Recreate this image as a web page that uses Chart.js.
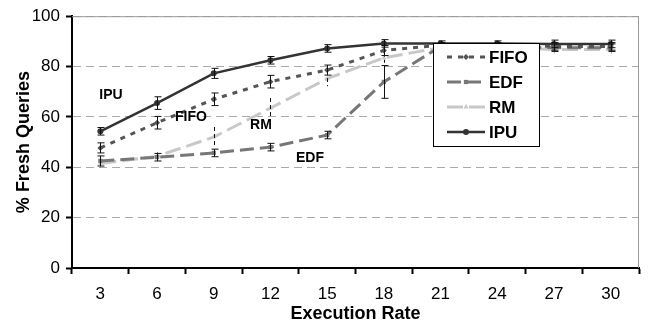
<!DOCTYPE html>
<html>
<head>
<meta charset="utf-8">
<script src="https://cdn.jsdelivr.net/npm/chart.js@4.4.1/dist/chart.umd.min.js"></script>
<style>
  html, body { margin: 0; padding: 0; background: #fff; }
  #wrap { width: 648px; height: 325px; }
</style>
</head>
<body>
<div id="wrap"><canvas id="fresh_queries" width="648" height="325"></canvas></div>
<script>
  const rates = ["3", "6", "9", "12", "15", "18", "21", "24", "27", "30"]

  const fifoValues = [47.7, 57.7, 67, 74, 78.6, 86.4, 88.5, 88.5, 88, 88]
  const edfValues = [42.5, 44, 45.7, 48, 52.8, 73.9, 88, 88, 87.5, 87.5]
  const rmValues = [41.5, 44.4, 52, 63.5, 75.2, 83.5, 87.5, 87.5, 86.8, 86.8]
  const ipuValues = [54.3, 65.5, 77.3, 82.5, 87.2, 89.2, 89.2, 89.2, 89, 89]

  const fifoErrors = [2, 2.5, 2.5, 2.5, 2, 2, 1, 1, 1.5, 1.5]
  const edfErrors = [2, 1.5, 1.5, 1.5, 1.5, 6.5, 1, 1, 1.5, 1.5]
  const rmErrors = [1.5, 1.5, 4, 4, 3, 2, 1, 1, 1.5, 1.5]
  const ipuErrors = [1.5, 2.5, 2, 1.5, 1.5, 1.5, 1, 1, 1.5, 1.5]

  const yTicks = [0, 20, 40, 60, 80, 100]

  const seriesLabels = ["FIFO", "EDF", "RM", "IPU"]
  const seriesColors = ["#555555", "#777777", "#c8c8c8", "#333333"]
  const seriesDashes = [[5, 6], [14, 6], [16, 6], []]
  const seriesPoints = ["rectRot", "rect", "triangle", "circle"]
  const errorDashes = [[], [], [4, 3], []]

  const notes = [
    {text: "IPU", x: 111, y: 95},
    {text: "FIFO", x: 191, y: 117},
    {text: "RM", x: 261, y: 125},
    {text: "EDF", x: 310, y: 158}
  ]

  const allValues = [fifoValues, edfValues, rmValues, ipuValues]
  const allErrors = [fifoErrors, edfErrors, rmErrors, ipuErrors]

  const FONT = "'Liberation Sans', Arial, sans-serif"

  const datasets = seriesLabels.map((label, i) => ({
    label: label,
    data: allValues[i],
    borderColor: seriesColors[i],
    backgroundColor: seriesColors[i],
    borderWidth: i === 3 ? 2.5 : 3,
    borderDash: seriesDashes[i],
    pointStyle: seriesPoints[i],
    pointRadius: 3,
    pointBorderWidth: 0,
    tension: 0,
    errors: allErrors[i],
    errorDash: errorDashes[i]
  }))

  // plot frame, error bars, notes and the boxed legend
  const decorations = {
    id: "decorations",
    beforeDatasetsDraw(chart) {
      const {ctx, chartArea} = chart
      ctx.save()
      ctx.strokeStyle = "#999"
      ctx.lineWidth = 1
      ctx.beginPath()
      ctx.moveTo(chartArea.left, chartArea.top + 0.5)
      ctx.lineTo(chartArea.right - 0.5, chartArea.top + 0.5)
      ctx.lineTo(chartArea.right - 0.5, chartArea.bottom)
      ctx.stroke()
      ctx.restore()
    },
    afterDatasetsDraw(chart) {
      const {ctx} = chart
      const yScale = chart.scales.y
      ctx.save()
      ctx.strokeStyle = "#111"
      ctx.lineWidth = 1
      chart.data.datasets.forEach((ds, di) => {
        const meta = chart.getDatasetMeta(di)
        meta.data.forEach((pt, idx) => {
          const err = ds.errors[idx]
          const yTop = yScale.getPixelForValue(ds.data[idx] + err)
          const yBot = yScale.getPixelForValue(ds.data[idx] - err)
          const x = Math.round(pt.x) + 0.5
          ctx.setLineDash(ds.errorDash)
          ctx.beginPath()
          ctx.moveTo(x, yTop)
          ctx.lineTo(x, yBot)
          ctx.stroke()
          if (ds.errorDash.length === 0) {
            ctx.beginPath()
            ctx.moveTo(x - 3, yTop)
            ctx.lineTo(x + 4, yTop)
            ctx.moveTo(x - 3, yBot)
            ctx.lineTo(x + 4, yBot)
            ctx.stroke()
          }
        })
      })
      ctx.setLineDash([])

      ctx.fillStyle = "#000"
      ctx.font = "bold 14px " + FONT
      ctx.textAlign = "center"
      ctx.textBaseline = "middle"
      notes.forEach(n => ctx.fillText(n.text, n.x, n.y))

      // legend box
      const box = {left: 433, top: 43, width: 106, height: 103}
      ctx.fillStyle = "#fff"
      ctx.fillRect(box.left, box.top, box.width, box.height)
      ctx.strokeStyle = "#000"
      ctx.lineWidth = 1
      ctx.strokeRect(box.left + 0.5, box.top + 0.5, box.width, box.height)

      ctx.font = "bold 17px " + FONT
      ctx.textAlign = "left"
      chart.data.datasets.forEach((ds, i) => {
        const y = box.top + 14 + i * 25
        ctx.strokeStyle = ds.borderColor
        ctx.lineWidth = ds.borderWidth
        ctx.setLineDash(ds.borderDash)
        ctx.beginPath()
        ctx.moveTo(box.left + 14, y)
        ctx.lineTo(box.left + 52, y)
        ctx.stroke()
        ctx.setLineDash([])
        ctx.fillStyle = ds.backgroundColor
        Chart.helpers.drawPoint(ctx, {pointStyle: ds.pointStyle, radius: 3, borderWidth: 0}, box.left + 33, y)
        ctx.fillStyle = "#000"
        ctx.fillText(ds.label, box.left + 56, y + 1)
      })
      ctx.restore()
    }
  }

  new Chart(document.getElementById("fresh_queries").getContext("2d"), {
    type: "line",
    data: {
      labels: rates,
      datasets: datasets
    },
    options: {
      responsive: false,
      animation: false,
      layout: {padding: {top: 15, right: 9, left: 0, bottom: 0}},
      plugins: {
        legend: {display: false},
        tooltip: {enabled: false}
      },
      scales: {
        x: {
          type: "category",
          offset: true,
          afterFit: axis => { axis.height = 57 },
          grid: {
            offset: true,
            drawOnChartArea: false,
            color: "#000",
            tickLength: 6,
            tickWidth: 2
          },
          border: {color: "#000", width: 2},
          ticks: {
            color: "#000",
            padding: 10,
            font: {family: FONT, size: 17}
          },
          title: {
            display: true,
            text: "Execution Rate",
            color: "#000",
            padding: {top: 0, bottom: 0},
            font: {family: FONT, size: 18, weight: "bold"}
          }
        },
        y: {
          min: 0,
          max: 100,
          afterFit: axis => { axis.width = 72 },
          afterBuildTicks: axis => { axis.ticks = yTicks.map(v => ({value: v})) },
          grid: {
            color: "#aaa",
            tickColor: "#000",
            tickLength: 6,
            tickWidth: 2,
            lineWidth: 1
          },
          border: {color: "#000", width: 2, dash: [8, 5]},
          ticks: {
            color: "#000",
            padding: 6,
            font: {family: FONT, size: 17}
          },
          title: {
            display: true,
            text: "% Fresh Queries",
            color: "#000",
            padding: {top: 13, bottom: 0},
            font: {family: FONT, size: 18, weight: "bold"}
          }
        }
      }
    },
    plugins: [decorations]
  })
</script>
</body>
</html>
